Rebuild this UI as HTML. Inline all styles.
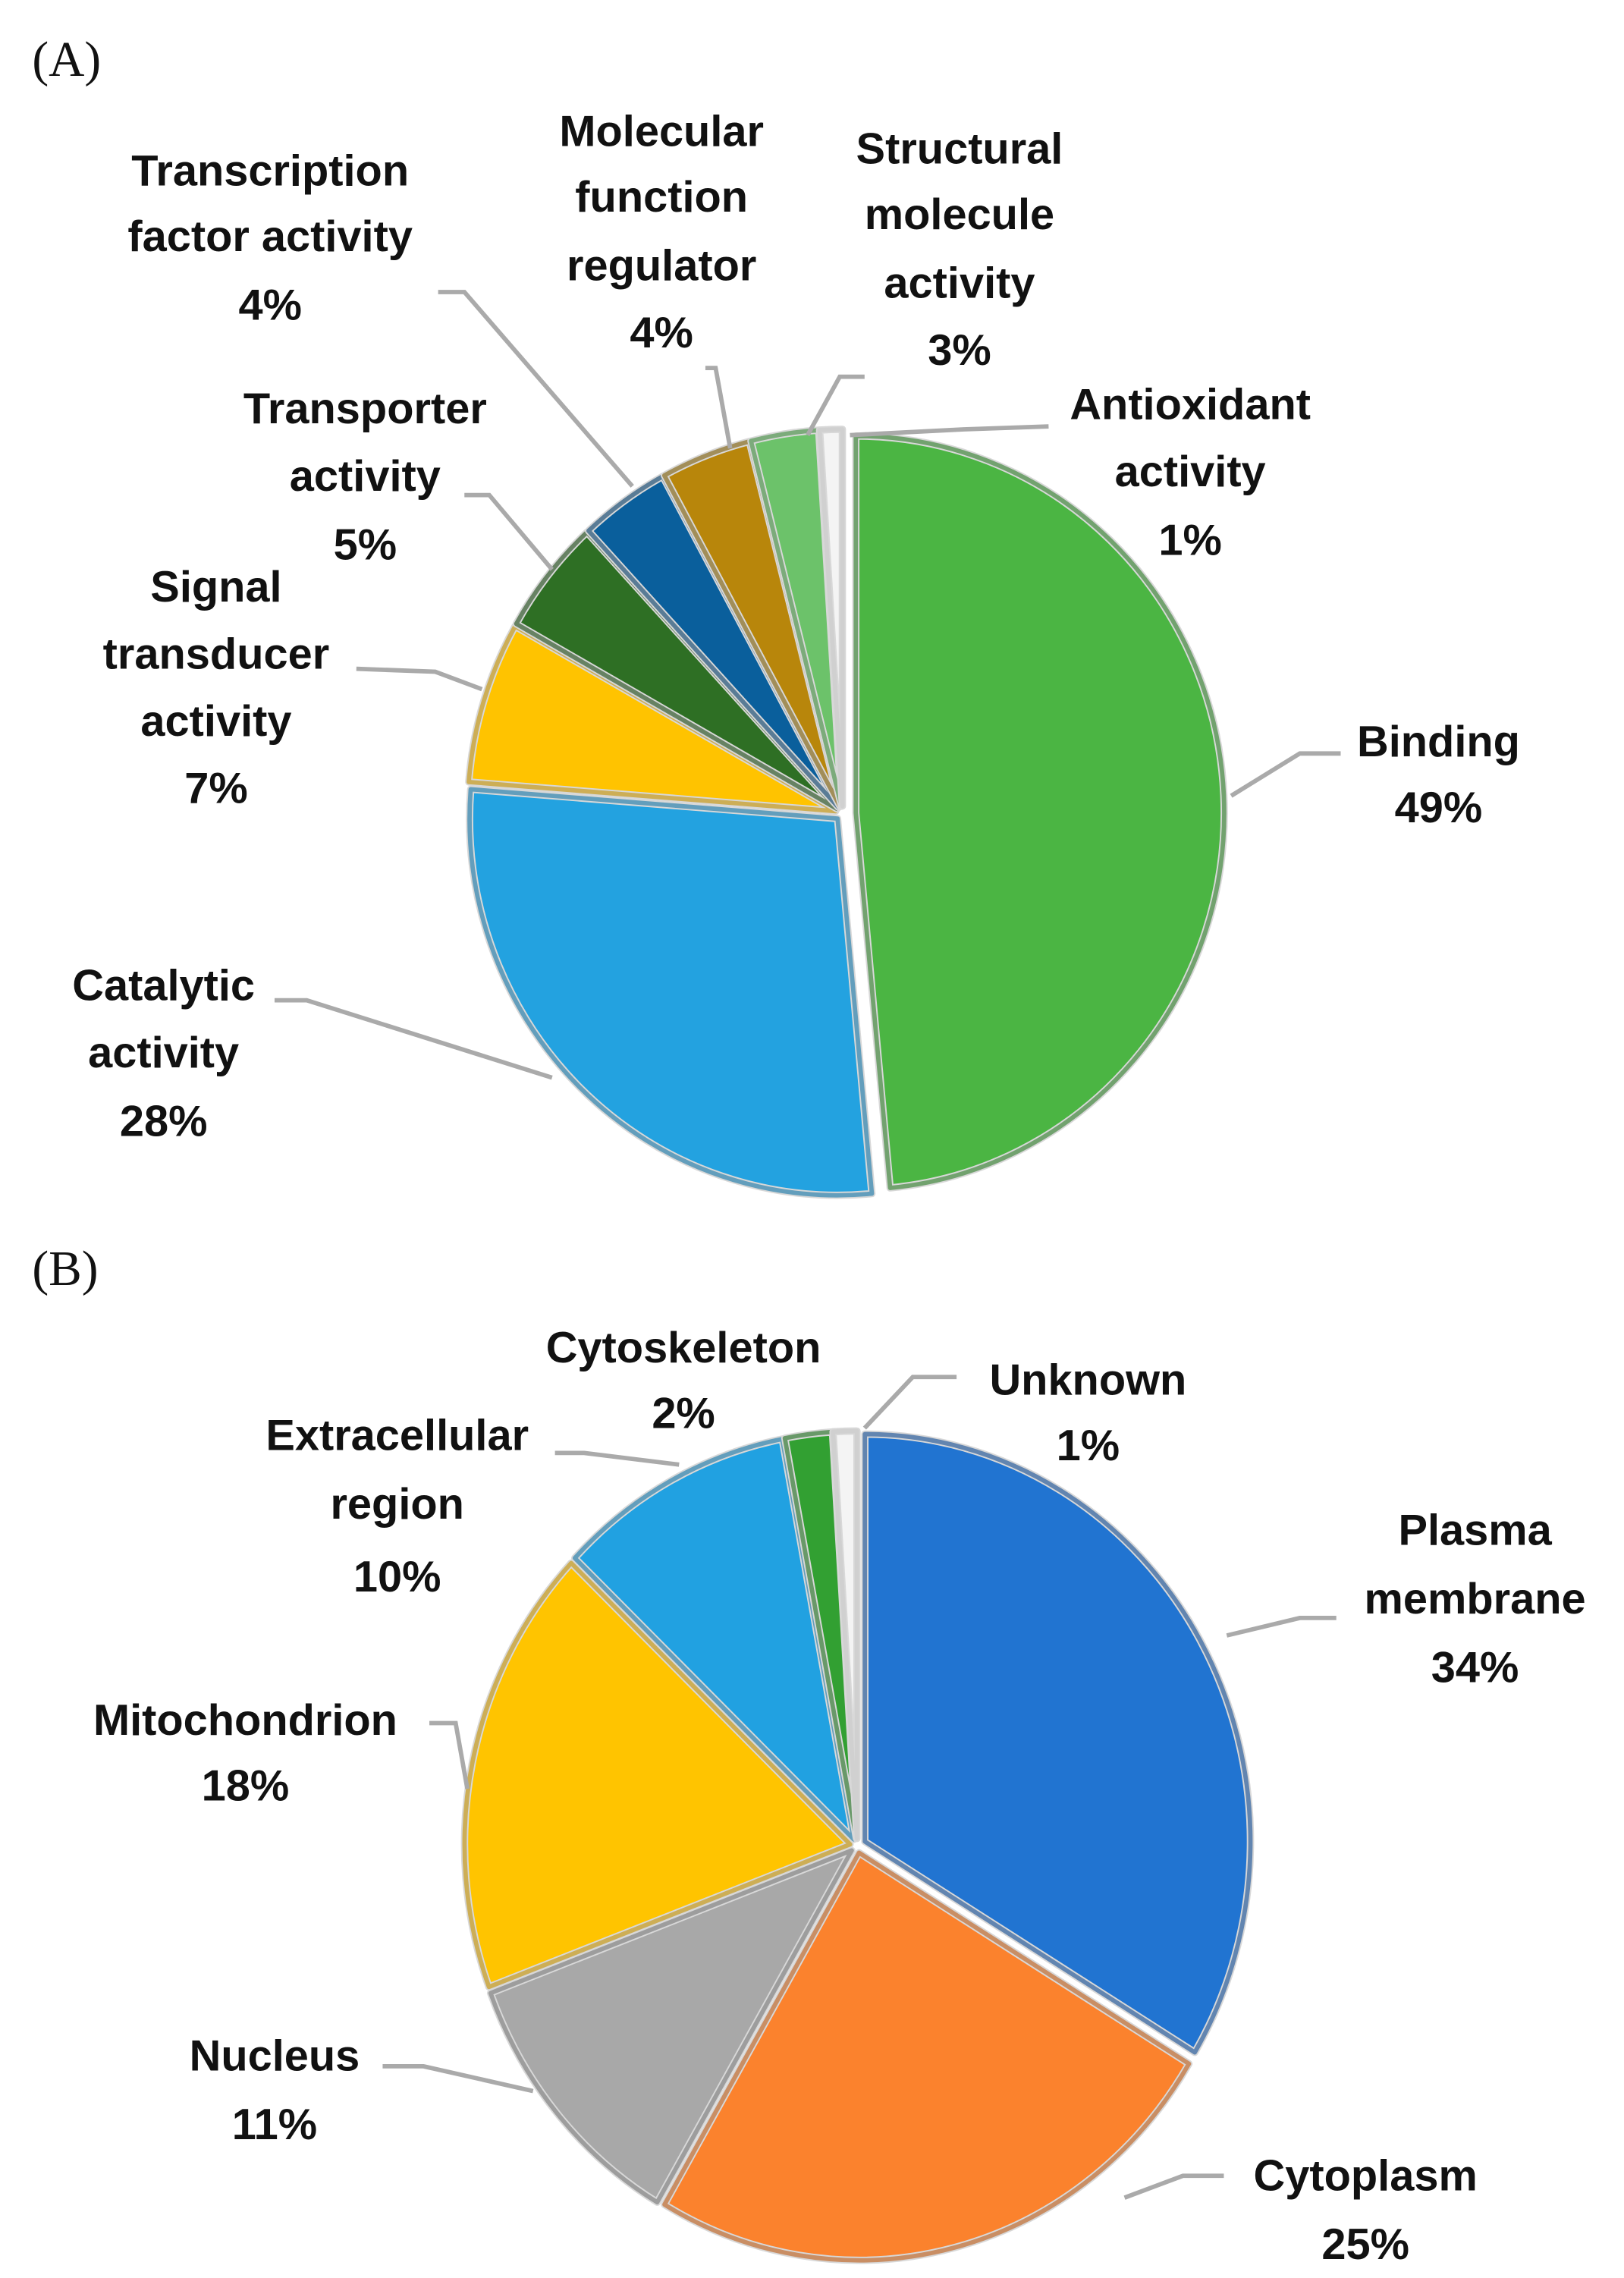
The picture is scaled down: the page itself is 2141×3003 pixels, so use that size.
<!DOCTYPE html>
<html><head><meta charset="utf-8"><style>
html,body{margin:0;padding:0;background:#fff;}
svg{display:block;}
text{font-family:"Liberation Sans",Arial,sans-serif;font-weight:bold;font-size:30px;fill:#111;text-anchor:middle;}
.ttl{font-family:"Liberation Serif",serif;font-weight:normal;font-size:34px;text-anchor:start;}
.ld{fill:none;stroke:#aaa;stroke-width:3;}
</style></head><body>
<svg id="s" width="2141" height="3003" viewBox="0 0 1112 1560" preserveAspectRatio="none" xmlns="http://www.w3.org/2000/svg">
<text class="ttl" x="22" y="52">(A)</text>
<text class="ttl" x="22" y="880">(B)</text>
<g id="pies"></g>
<polyline class="ld" points="300,200 318,200 433,333"/>
<polyline class="ld" points="483,252 490,252 500,307"/>
<polyline class="ld" points="592,258 575,258 553,298"/>
<polyline class="ld" points="718,292 660,294 582,298"/>
<polyline class="ld" points="318,339 335,339 378,390"/>
<polyline class="ld" points="244,458 298,460 330,472"/>
<polyline class="ld" points="918,516 890,516 843,545"/>
<polyline class="ld" points="188,685 210,685 378,738"/>
<polyline class="ld" points="380,995 400,995 465,1003"/>
<polyline class="ld" points="655,943 625,943 592,978"/>
<polyline class="ld" points="915,1108 890,1108 840,1120"/>
<polyline class="ld" points="294,1180 312,1180 320,1225"/>
<polyline class="ld" points="262,1415 290,1415 365,1432"/>
<polyline class="ld" points="838,1490 810,1490 770,1505"/>
<text x="185" y="127">Transcription</text><text x="185" y="172">factor activity</text><text x="185" y="219">4%</text>
<text x="453" y="100">Molecular</text><text x="453" y="145">function</text><text x="453" y="192">regulator</text><text x="453" y="238">4%</text>
<text x="657" y="112">Structural</text><text x="657" y="157">molecule</text><text x="657" y="204">activity</text><text x="657" y="250">3%</text>
<text x="815" y="287">Antioxidant</text><text x="815" y="333">activity</text><text x="815" y="380">1%</text>
<text x="250" y="290">Transporter</text><text x="250" y="336">activity</text><text x="250" y="383">5%</text>
<text x="148" y="412">Signal</text><text x="148" y="458">transducer</text><text x="148" y="504">activity</text><text x="148" y="550">7%</text>
<text x="985" y="518">Binding</text><text x="985" y="563">49%</text>
<text x="112" y="685">Catalytic</text><text x="112" y="731">activity</text><text x="112" y="778">28%</text>
<text x="468" y="933">Cytoskeleton</text><text x="468" y="978">2%</text>
<text x="745" y="955">Unknown</text><text x="745" y="1000">1%</text>
<text x="272" y="993">Extracellular</text><text x="272" y="1040">region</text><text x="272" y="1090">10%</text>
<text x="1010" y="1058">Plasma</text><text x="1010" y="1105">membrane</text><text x="1010" y="1152">34%</text>
<text x="168" y="1188">Mitochondrion</text><text x="168" y="1233">18%</text>
<text x="188" y="1418">Nucleus</text><text x="188" y="1465">11%</text>
<text x="935" y="1500">Cytoplasm</text><text x="935" y="1547">25%</text>
</svg>
<script>
function pie(cx,cy,rx,ry,data,g){
  var tot=data.reduce(function(a,d){return a+d[0]},0),a0=0,h='';
  data.forEach(function(d){
    var a1=a0+d[0]/tot*360, m=(a0+a1)/2*Math.PI/180, off=d[3]||5;
    var ox=cx+Math.sin(m)*off, oy=cy-Math.cos(m)*off;
    var p=function(a){a=a*Math.PI/180;return (ox+rx*Math.sin(a)).toFixed(1)+','+(oy-ry*Math.cos(a)).toFixed(1);};
    var large=(a1-a0)>180?1:0;
    var dd='M'+ox.toFixed(1)+','+oy.toFixed(1)+' L'+p(a0)+' A'+rx+','+ry+' 0 '+large+' 1 '+p(a1)+' Z';
    h+='<path d="'+dd+'" fill="'+d[1]+'" stroke="#d8d8d8" stroke-width="5" stroke-linejoin="round"/>';
    h+='<path d="'+dd+'" fill="none" stroke="'+d[2]+'" stroke-width="3" stroke-linejoin="round" opacity="0.6"/>';
    a0=a1;
  });
  g.innerHTML+=h;
}
var g=document.getElementById('pies');
pie(577,557,252,258,[
 [49,'#4bb543','#2f7f2a',9],[28,'#23a2e0','#1578aa',5],[7,'#ffc300','#c79300',5],
 [5,'#2e6f24','#1d4a16',5],[4,'#0a5f9c','#06406a',5],[4,'#b8860b','#7f5d05',5],
 [3,'#6cc26a','#3f8d3d',5],[1,'#f4f4f4','#cccccc',5]],g);
pie(587,1264,264,279,[
 [34,'#2174d1','#144f96',6],[25,'#fb822d','#c05d18',5],[11,'#a8a8a8','#777',5],
 [18,'#ffc400','#c79300',5],[10,'#21a1e1','#1578aa',5],[2,'#32a032','#1f701f',5],[1,'#f4f4f4','#ccc',5]],g);
</script>
</body></html>
